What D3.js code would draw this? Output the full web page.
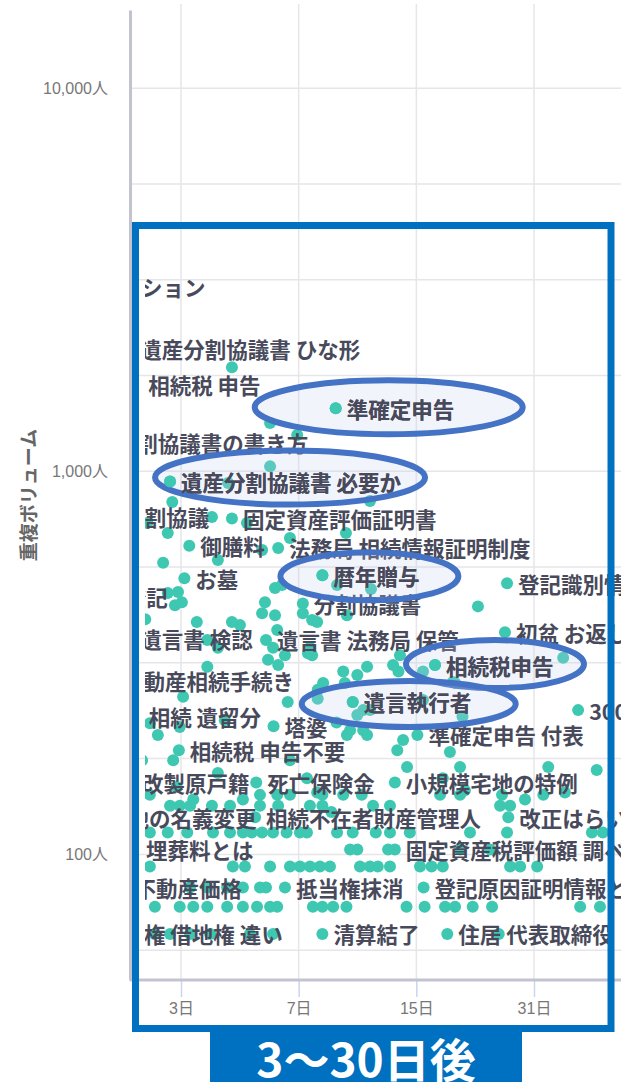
<!DOCTYPE html>
<html>
<head>
<meta charset="utf-8">
<script src="https://cdn.jsdelivr.net/npm/d3@7"></script>
<style>
  body { margin: 0; background: #fff; }
  text { font-family: "Noto Sans CJK JP", "Noto Sans", sans-serif; }
</style>
</head>
<body>
<svg width="621" height="1082"></svg>
<script>
// ラベル付きキーワード (日数, 重複ボリューム)
var labelNames = [
    "相続税シミュレーション", "遺産分割協議書 ひな形", "相続税 申告", "準確定申告",
    "遺産分割協議書の書き方", "遺産分割協議書 必要か", "遺産分割協議", "固定資産評価証明書",
    "御膳料", "法務局 相続情報証明制度", "お墓", "暦年贈与", "登記識別情報", "相続登記",
    "分割協議書", "初盆 お返し", "遺言書 検認", "遺言書 法務局 保管", "相続税申告",
    "不動産相続手続き", "遺言執行者", "3000万円特別控除", "相続 遺留分", "塔婆",
    "準確定申告 付表", "相続税 申告不要", "改製原戸籍", "死亡保険金", "小規模宅地の特例",
    "土地の名義変更", "相続不在者財産管理人", "改正はらい戻し", "埋葬料とは",
    "固定資産税評価額 調べ方", "不動産価格", "抵当権抹消", "登記原因証明情報とは",
    "地上権 借地権 違い", "清算結了", "住居 代表取締役"
];
var labelDays = [
    0.08, 1.95, 2.09, 8.95,
    0.97, 2.75, 1.07, 4.4,
    3.2, 6.09, 3.08, 8.2, 26.3, 1.09,
    7.2, 25.97, 1.95, 5.6, 16.86,
    1.65, 10.0, 40.5, 2.1, 5.9,
    15.1, 2.95, 1.98, 5.23, 13.1,
    1.41, 5.19, 26.5, 2.05,
    13.1, 1.85, 6.38, 15.7,
    1.34, 8.2, 18.2
];
var labelVolumes = [
    3030, 2086, 1680, 1460,
    1186, 940, 760, 753,
    639, 631, 526, 535, 510, 470,
    452, 380, 367, 363, 312,
    285, 250, 238, 229, 216,
    205, 187, 154, 154, 154,
    125, 125, 125, 103,
    103, 82, 82, 82,
    62, 62, 62
];

// ラベルなしの点
var dotDays = [
    4.4, 5.76, 6.93, 5.76, 4.28, 2.8, 11.18, 3.8, 2.28, 4.9, 2.7, 6.6, 9.57, 5.45, 2.6, 3.97,
    2.93, 2.7, 3.02, 2.86, 2.24, 3.39, 4.4, 4.66, 5.96, 6.25, 5.56, 5.45, 5.96, 7.2, 7.66, 7.92,
    9.03, 9.63, 11.25, 22.0, 6.05, 3.67, 3.97, 5.88, 5.68, 6.09, 6.38, 7.55, 7.66,
    7.45, 13.53, 12.95, 13.4, 9.4, 10.3, 10.97, 15.64, 37.0, 8.24, 7.95, 10.7, 10.3, 19.1, 20.0,
    9.83, 10.7, 3.67, 9.5, 3.05, 6.5, 7.95, 11.18, 15.64, 18.85, 2.33, 2.97, 4.18, 9.0, 2.49,
    9.63, 10.97, 13.8, 18.5, 13.3, 6.6, 2.18, 2.82, 45.3, 33.8, 3.97, 14.15, 17.7, 19.7, 7.4,
    7.92, 20.3, 25.5, 29.35, 37.4, 2.9, 3.3, 4.76, 6.6, 8.7,
    2.33, 5.37, 6.05, 8.2, 9.4, 10.6, 17.4, 19.7, 32.8,
    2.75, 2.97, 3.22, 3.8, 4.34, 5.37, 6.09, 7.55, 8.2, 11.4, 12.7, 25.2, 26.8,
    2.33, 2.7, 3.15, 3.83, 4.34, 4.76, 5.07, 5.45, 5.88, 6.45, 7.06, 7.4, 9.03, 10.0, 11.6, 12.7,
    14.4, 20.95, 26.3, 44.0, 47.0,
    9.83, 10.3, 12.55, 19.7, 23.7,
    2.33, 4.43, 4.83, 5.76, 6.6, 7.06, 7.55, 8.07, 8.62, 10.48, 11.18, 11.75, 12.7, 15.35, 16.5,
    17.7, 26.8, 28.5, 31.6,
    3.22, 3.67, 4.25, 4.76, 5.37, 5.6,
    2.43, 2.97, 3.3, 3.67, 4.25, 4.76, 5.26, 5.76, 6.05, 7.7, 8.2, 8.8, 9.6, 14.1, 15.8, 17.95,
    19.1, 21.3, 24.0, 41.0, 46.2,
    2.43, 2.75, 3.22, 3.75, 5.0, 5.88, 25.0
];
var dotVolumes = [
    1870, 1337, 1244, 1030, 932, 832, 837, 760, 733, 733, 690, 670, 690, 623, 577, 587,
    484, 481, 455, 447, 411, 404, 404, 397, 496, 505, 455, 426, 421, 426, 409, 404,
    505, 421, 493, 444, 385, 363, 346, 346, 322, 312, 331, 346, 331,
    335, 331, 312, 300, 300, 294, 309, 300, 326, 280, 255, 238, 231, 280, 229,
    211, 211, 309, 280, 258, 250, 269, 238, 253, 282, 220, 215, 224, 221, 205,
    205, 205, 199, 185, 187, 176, 176, 176, 166, 169, 163, 169, 158, 169, 158,
    145, 147, 143, 139, 145, 150, 139, 139, 143, 129,
    143, 143, 143, 143, 143, 143, 143, 143, 143,
    134, 134, 134, 134, 134, 134, 134, 134, 134, 134, 134, 134, 134,
    114, 114, 114, 114, 114, 114, 114, 114, 114, 114, 114, 114, 114, 114, 114, 114,
    114, 114, 114, 114, 114,
    103, 103, 103, 103, 103,
    93, 93, 93, 93, 93, 93, 93, 93, 93, 93, 93, 93, 93, 93, 93,
    93, 93, 93, 93,
    82, 82, 82, 82, 82, 82,
    73, 73, 73, 73, 73, 73, 73, 73, 73, 73, 73, 73, 73, 73, 73, 73,
    73, 73, 73, 73, 73,
    62, 62, 62, 62, 62, 62, 62
];

var highlighted = ["準確定申告", "遺産分割協議書 必要か", "暦年贈与", "相続税申告", "遺言執行者"];
var xTicks = [3, 7, 15, 31];
var yTicks = [100, 1000, 10000];
var rangeLabel = "3〜30日後";

var W = 621, H = 1082;
var svg = d3.select("svg");

// 横軸は log(1+日数)、縦軸は対数
var x = d3.scaleSymlog().constant(1).domain([3, 31]).range([181, 534]);
var y = d3.scaleLog().domain([47, 16000]).range([980, 10]);

var axisX = 130, plotLeft = 145;
var dotColor = "#3ec8b2", textColor = "#484a5b";

// 横グリッド (1/4 デケード刻み)
var hGrid = d3.range(7, 17).map(function (k) { return Math.pow(10, k / 4); });
svg.append("g").selectAll("line")
    .data(hGrid)
    .enter().append("line")
    .attr("x1", axisX).attr("x2", W)
    .attr("y1", function (d) { return y(d); })
    .attr("y2", function (d) { return y(d); })
    .attr("stroke", "#e6e6ea")
    .attr("stroke-width", 1.5);

// 縦グリッド
svg.append("g").selectAll("line")
    .data(xTicks)
    .enter().append("line")
    .attr("x1", function (d) { return x(d); })
    .attr("x2", function (d) { return x(d); })
    .attr("y1", 4).attr("y2", y.range()[0])
    .attr("stroke", "#e6e6ea")
    .attr("stroke-width", 1.5);

// x軸
var xAxis = svg.append("g")
    .attr("transform", "translate(0," + y.range()[0] + ")")
    .call(d3.axisBottom(x).tickValues(xTicks)
        .tickFormat(function (d) { return d + "日"; })
        .tickSize(17).tickPadding(6));
xAxis.select(".domain").remove();
xAxis.selectAll(".tick line").attr("stroke", "#cbd5ee").attr("stroke-width", 1.5);
xAxis.selectAll(".tick text")
    .attr("fill", "#777").style("font-size", "16px")
    .style("font-family", "'Liberation Sans', 'Noto Sans CJK JP'");
svg.append("line")
    .attr("x1", axisX).attr("x2", W)
    .attr("y1", y.range()[0]).attr("y2", y.range()[0])
    .attr("stroke", "#c3c3cf").attr("stroke-width", 3);

// y軸
var yAxis = svg.append("g")
    .attr("transform", "translate(" + axisX + ",0)")
    .call(d3.axisLeft(y).tickValues(yTicks)
        .tickFormat(function (d) { return d3.format(",")(d) + "人"; })
        .tickSize(0).tickSizeOuter(0).tickPadding(22));
yAxis.select(".domain").attr("stroke", "#c3c3cf").attr("stroke-width", 3);
yAxis.selectAll(".tick text")
    .attr("fill", "#777").style("font-size", "16px")
    .style("font-family", "'Liberation Sans', 'Noto Sans CJK JP'");

svg.append("text")
    .attr("transform", "translate(27,495) rotate(-90)")
    .attr("text-anchor", "middle")
    .attr("dominant-baseline", "central")
    .attr("fill", "#666")
    .style("font-size", "19px")
    .style("font-weight", "bold")
    .text("重複ボリューム");

// プロット領域のクリップ
svg.append("clipPath").attr("id", "plotClip")
    .append("rect")
    .attr("x", plotLeft).attr("y", 0)
    .attr("width", W - plotLeft).attr("height", y.range()[0]);

var plot = svg.append("g").attr("clip-path", "url(#plotClip)");

var dots = dotDays.map(function (d, i) { return { d: d, v: dotVolumes[i] }; });
var labelled = labelNames.map(function (n, i) {
    return { name: n, d: labelDays[i], v: labelVolumes[i] };
});

plot.append("g").selectAll("circle")
    .data(dots.concat(labelled))
    .enter().append("circle")
    .attr("cx", function (d) { return x(d.d); })
    .attr("cy", function (d) { return y(d.v); })
    .attr("r", 6)
    .attr("fill", dotColor);

plot.append("g").selectAll("text")
    .data(labelled)
    .enter().append("text")
    .attr("x", function (d) { return x(d.d) + 11; })
    .attr("y", function (d) { return y(d.v); })
    .attr("dominant-baseline", "central")
    .attr("fill", textColor)
    .style("font-size", "21.5px")
    .style("font-weight", "bold")
    .text(function (d) { return d.name; });

// 強調の楕円 (点からのずれ)
var ellipseShape = {
    "準確定申告": { dx: 53, dy: -1, rx: 134, ry: 27 },
    "遺産分割協議書 必要か": { dx: 120, dy: -4, rx: 135, ry: 27 },
    "暦年贈与": { dx: 47, dy: 1, rx: 89, ry: 24 },
    "相続税申告": { dx: 60, dy: -1, rx: 89, ry: 24 },
    "遺言執行者": { dx: 56, dy: 2, rx: 107, ry: 23 }
};
var hi = labelled.filter(function (d) { return highlighted.indexOf(d.name) >= 0; });

var annot = svg.append("g");
annot.selectAll("ellipse")
    .data(hi)
    .enter().append("ellipse")
    .attr("cx", function (d) { return x(d.d) + ellipseShape[d.name].dx; })
    .attr("cy", function (d) { return y(d.v) + ellipseShape[d.name].dy; })
    .attr("rx", function (d) { return ellipseShape[d.name].rx; })
    .attr("ry", function (d) { return ellipseShape[d.name].ry; })
    .attr("fill", "#c5cdee")
    .attr("fill-opacity", 0.22)
    .attr("stroke", "#4472c4")
    .attr("stroke-width", 6);

annot.selectAll("circle")
    .data(hi)
    .enter().append("circle")
    .attr("cx", function (d) { return x(d.d); })
    .attr("cy", function (d) { return y(d.v); })
    .attr("r", 6)
    .attr("fill", dotColor);

annot.selectAll("text")
    .data(hi)
    .enter().append("text")
    .attr("x", function (d) { return x(d.d) + 11; })
    .attr("y", function (d) { return y(d.v); })
    .attr("dominant-baseline", "central")
    .attr("fill", textColor)
    .style("font-size", "21.5px")
    .style("font-weight", "bold")
    .text(function (d) { return d.name; });

// 期間の枠
svg.append("rect")
    .attr("x", 135.5).attr("y", 225.5)
    .attr("width", 475.5).attr("height", 803)
    .attr("fill", "none")
    .attr("stroke", "#0070c0")
    .attr("stroke-width", 7);

svg.append("rect")
    .attr("x", 210).attr("y", 1028)
    .attr("width", 312).attr("height", H - 1028)
    .attr("fill", "#0070c0");

svg.append("text")
    .attr("x", 366).attr("y", 1057)
    .attr("text-anchor", "middle")
    .attr("dominant-baseline", "central")
    .attr("fill", "#fff")
    .style("font-size", "46px")
    .style("font-weight", "bold")
    .text(rangeLabel);
</script>
</body>
</html>
